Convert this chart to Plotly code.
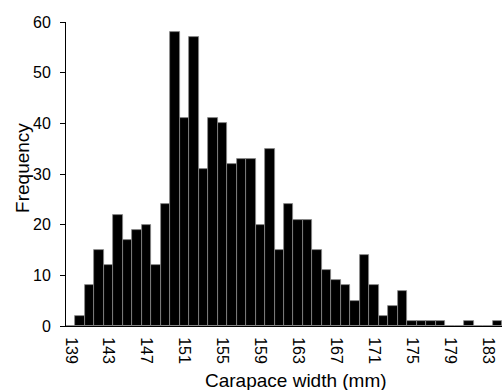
import plotly.graph_objects as go

widths = list(range(139, 185))
freq = [0, 2, 8, 15, 12, 22, 17, 19, 20, 12,
        24, 58, 41, 57, 31, 41, 40, 32, 33, 33,
        20, 35, 15, 24, 21, 21, 15, 11, 9, 8,
        5, 14, 8, 2, 4, 7, 1, 1, 1, 1,
        0, 0, 1, 0, 0, 1]
x_ticks = list(range(139, 185, 4))
y_ticks = [0, 10, 20, 30, 40, 50, 60]

FONT = "Liberation Sans, Arial, sans-serif"

fig = go.Figure(go.Bar(
    x=widths, y=freq,
    marker=dict(color="#000000", line=dict(color="#8a8a8a", width=0.8)),
    width=1.0,
))

fig.update_layout(
    width=502, height=390,
    margin=dict(l=66, r=0, t=22, b=64),
    paper_bgcolor="white", plot_bgcolor="white",
    bargap=0, showlegend=False,
    font=dict(family=FONT, color="black", size=16),
)
fig.update_xaxes(
    range=[138.5, 184.5], showgrid=False, zeroline=False,
    showline=True, linecolor="black", linewidth=1,
    tickvals=x_ticks, ticktext=[str(v) for v in x_ticks],
    tickangle=90, ticks="", ticklabelstandoff=7,
    tickfont=dict(size=16, family=FONT),
)
fig.update_yaxes(
    range=[0, 60], showgrid=False, zeroline=False,
    showline=True, linecolor="black", linewidth=1,
    tickvals=y_ticks, ticks="outside", ticklen=5, tickwidth=1, tickcolor="black",
    ticklabelstandoff=6,
    tickfont=dict(size=16, family=FONT),
)
fig.add_annotation(
    text="Carapace width (mm)", xref="paper", yref="paper",
    x=0.5275, y=-0.178, xanchor="center", yanchor="middle",
    showarrow=False, font=dict(size=19, family=FONT, color="black"),
)
fig.add_annotation(
    text="Frequency", xref="paper", yref="paper",
    x=-0.0986, y=0.52, xanchor="center", yanchor="middle", textangle=-90,
    showarrow=False, font=dict(size=19, family=FONT, color="black"),
)
fig.write_html("out.html")
